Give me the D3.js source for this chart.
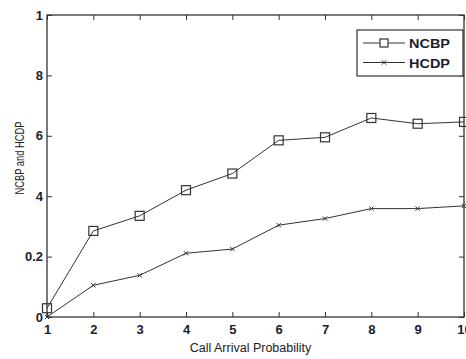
<!DOCTYPE html>
<html>
<head>
<meta charset="utf-8">
<script src="https://cdn.jsdelivr.net/npm/d3@7"></script>
<style>
  body { margin: 0; background: #fff; }
  svg text { font-family: "Liberation Sans", Arial, sans-serif; }
</style>
</head>
<body>
<div id="chart"></div>
<script>
// data
var xValues = [1, 2, 3, 4, 5, 6, 7, 8, 9, 10];
var ncbp = [0.029, 0.285, 0.335, 0.42, 0.475, 0.585, 0.595, 0.659, 0.64, 0.646];
var hcdp = [0.0, 0.105, 0.138, 0.211, 0.225, 0.304, 0.326, 0.359, 0.359, 0.368];
var yTicks = [0, 0.2, 0.4, 0.6, 0.8, 1];
var yTickLabels = ["0", "0.2", "4", "6", "8", "1"];
var seriesNames = ["NCBP", "HCDP"];

var svgWidth = 466, svgHeight = 359;
var margin = { top: 15, right: 2, bottom: 42, left: 47 };
var width = svgWidth - margin.left - margin.right;
var height = svgHeight - margin.top - margin.bottom;
var ink = "#333";

var svg = d3.select("#chart").append("svg")
    .attr("width", svgWidth)
    .attr("height", svgHeight);

var chartGroup = svg.append("g")
    .attr("transform", `translate(${margin.left}, ${margin.top})`);

var x = d3.scaleLinear().domain([1, 10]).range([0, width]);
var y = d3.scaleLinear().domain([0, 1]).range([height, 0]);

// frame
chartGroup.append("rect")
    .attr("width", width).attr("height", height)
    .attr("fill", "none").attr("stroke", ink).attr("stroke-width", 1.3);

function styleAxis(g) {
  g.select(".domain").remove();
  g.selectAll("line").attr("stroke", ink);
  g.selectAll("text")
    .attr("fill", "#1c1c30")
    .attr("font-size", "13px")
    .attr("font-weight", "bold");
}

chartGroup.append("g")
    .attr("transform", `translate(0, ${height})`)
    .call(d3.axisBottom(x).tickValues(xValues).tickSizeInner(-5).tickPadding(8).tickFormat(d3.format("d")))
    .call(styleAxis);

chartGroup.append("g")
    .call(d3.axisTop(x).tickValues(xValues).tickSizeInner(-5).tickFormat(""))
    .call(styleAxis);

chartGroup.append("g")
    .call(d3.axisLeft(y).tickValues(yTicks).tickSizeInner(-5).tickPadding(4)
      .tickFormat((d, i) => yTickLabels[i]))
    .call(styleAxis);

chartGroup.append("g")
    .attr("transform", `translate(${width}, 0)`)
    .call(d3.axisRight(y).tickValues(yTicks).tickSizeInner(-5).tickFormat(""))
    .call(styleAxis);

// lines
var line = d3.line()
    .x((d, i) => x(xValues[i]))
    .y(d => y(d));

chartGroup.append("path").datum(ncbp)
    .attr("d", line).attr("fill", "none").attr("stroke", ink).attr("stroke-width", 1);
chartGroup.append("path").datum(hcdp)
    .attr("d", line).attr("fill", "none").attr("stroke", ink).attr("stroke-width", 1);

// markers
var sq = 9;
chartGroup.selectAll(".sq").data(ncbp).enter().append("rect")
    .attr("class", "sq")
    .attr("x", (d, i) => x(xValues[i]) - sq / 2)
    .attr("y", d => y(d) - sq / 2)
    .attr("width", sq).attr("height", sq)
    .attr("fill", "none").attr("stroke", ink).attr("stroke-width", 1.2);

var cross = d3.symbol().type(d3.symbolX).size(14);
chartGroup.selectAll(".cx").data(hcdp).enter().append("path")
    .attr("class", "cx")
    .attr("d", cross)
    .attr("transform", (d, i) => `translate(${x(xValues[i])}, ${y(d)})`)
    .attr("fill", "none").attr("stroke", ink).attr("stroke-width", 1);

// legend
var legend = svg.append("g").attr("transform", "translate(357, 30)");
legend.append("rect")
    .attr("width", 106).attr("height", 46)
    .attr("fill", "#fff").attr("stroke", ink).attr("stroke-width", 1.2);

seriesNames.forEach(function(name, i) {
  var ly = 13 + i * 19.5;
  legend.append("line")
    .attr("x1", 6).attr("x2", 48).attr("y1", ly).attr("y2", ly)
    .attr("stroke", ink);
  if (i === 0) {
    legend.append("rect")
      .attr("x", 27 - 4).attr("y", ly - 4)
      .attr("width", 8).attr("height", 8)
      .attr("fill", "#fff").attr("stroke", ink).attr("stroke-width", 1.2);
  } else {
    legend.append("path").attr("d", cross)
      .attr("transform", `translate(27, ${ly})`)
      .attr("fill", "none").attr("stroke", ink);
  }
  legend.append("text")
    .attr("x", 52).attr("y", ly + 5)
    .attr("font-size", "13px").attr("font-weight", "bold")
    .attr("textLength", 41).attr("lengthAdjust", "spacingAndGlyphs")
    .attr("fill", "#1c1c30")
    .text(name);
});

// axis titles
svg.append("text")
    .attr("x", 250.5)
    .attr("y", 352)
    .attr("text-anchor", "middle")
    .attr("font-size", "12.5px")
    .attr("fill", "#222")
    .text("Call Arrival Probability");

svg.append("text")
    .attr("transform", "translate(24, 158) rotate(-90)")
    .attr("text-anchor", "middle")
    .attr("font-size", "13.5px")
    .attr("textLength", 73).attr("lengthAdjust", "spacingAndGlyphs")
    .attr("fill", "#222")
    .text("NCBP and HCDP");
</script>
</body>
</html>
